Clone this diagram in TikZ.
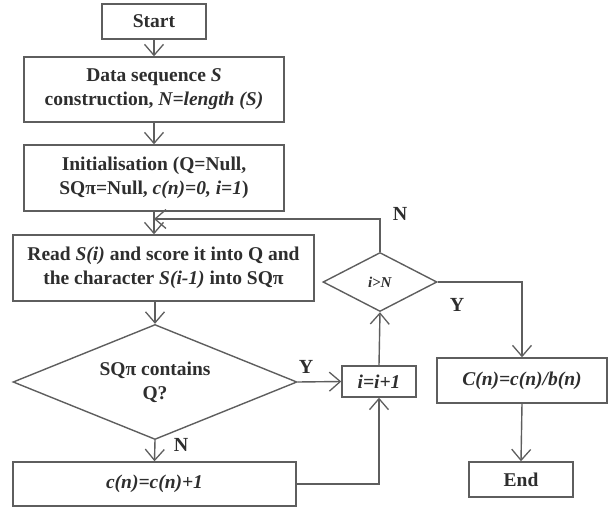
\documentclass[tikz,border=0pt]{standalone}
\usepackage{fontspec}
\setmainfont{Liberation Serif}
\usetikzlibrary{shapes.geometric,arrows.meta}
\definecolor{ln}{HTML}{5E5E5E}
\definecolor{tx}{HTML}{2E2E2E}
\begin{document}
\begin{tikzpicture}[x=1pt,y=-1pt,
  font=\fontsize{19.5}{24}\selectfont\bfseries, text=tx,
  box/.style={draw=ln, line width=1.4pt, align=center, inner sep=0pt, fill=white},
  dia/.style={draw=ln, line width=1.4pt, diamond, align=center, inner sep=0pt},
  arr/.style={draw=ln, line width=1.4pt, -{Straight Barb[length=11pt,width=19pt,line width=1.3pt]}},
  con/.style={draw=ln, line width=1.4pt},
  lbl/.style={font=\fontsize{20}{24}\selectfont\bfseries}]
\useasboundingbox (0,0) rectangle (608,508);
\node[box, minimum width=104pt, minimum height=35pt] (start) at (154,21.5) {Start};
\node[box, minimum width=260pt, minimum height=65pt] (data) at (154,89.5) {Data sequence \textit{S}\\construction, \textit{N=length (S)}};
\node[box, minimum width=260pt, minimum height=66pt] (init) at (154,178) {Initialisation (Q=Null,\\SQπ=Null, \textit{c(n)=0, i=1})};
\node[box, minimum width=301pt, minimum height=66pt] (read) at (163.5,268) {Read \textit{S(i)} and score it into Q and\\the character \textit{S(i-1)} into SQπ};
\node[dia, minimum width=284pt, minimum height=115pt, shape aspect=2.47] (d1) at (155,382) {SQπ contains\\Q?};
\node[box, minimum width=283pt, minimum height=44pt] (cn) at (154.5,484) {\textit{c(n)=c(n)+1}};
\node[box, minimum width=74pt, minimum height=31pt] (ii) at (379,381.5) {\textit{i=i+1}};
\node[dia, minimum width=114pt, minimum height=59pt, shape aspect=1.93, font=\fontsize{15}{16}\selectfont\bfseries] (d2) at (380,282) {\textit{i>N}};
\node[box, minimum width=170pt, minimum height=45pt] (cb) at (522,380.5) {\textit{C(n)=c(n)/b(n)}};
\node[box, minimum width=104pt, minimum height=35pt] (end) at (521,479.5) {End};
\coordinate (lp) at (154,219);
\draw[arr] (start.south) -- (data.north);
\draw[arr] (data.south) -- (init.north);
\draw[arr] (init.south) -- (init.south |- read.north);
\draw[arr] (d2.north) |- (lp);
\draw[arr] (d1.north |- read.south) -- (d1.north);
\draw[arr] (d1.east) -- (ii.west);
\draw[arr] (d1.south) -- (cn.north);
\draw[arr] (cn.east) -| (ii.south);
\draw[arr] (ii.north) -- (d2.south);
\draw[arr] (d2.east) -| (cb.north);
\draw[arr] (cb.south) -- (end.north);
\node[lbl] (ly1) at (306,367) {Y};
\node[lbl] (ln1) at (181,445) {N};
\node[lbl] (ln2) at (400,214) {N};
\node[lbl] (ly2) at (457,305) {Y};
\end{tikzpicture}
\end{document}
